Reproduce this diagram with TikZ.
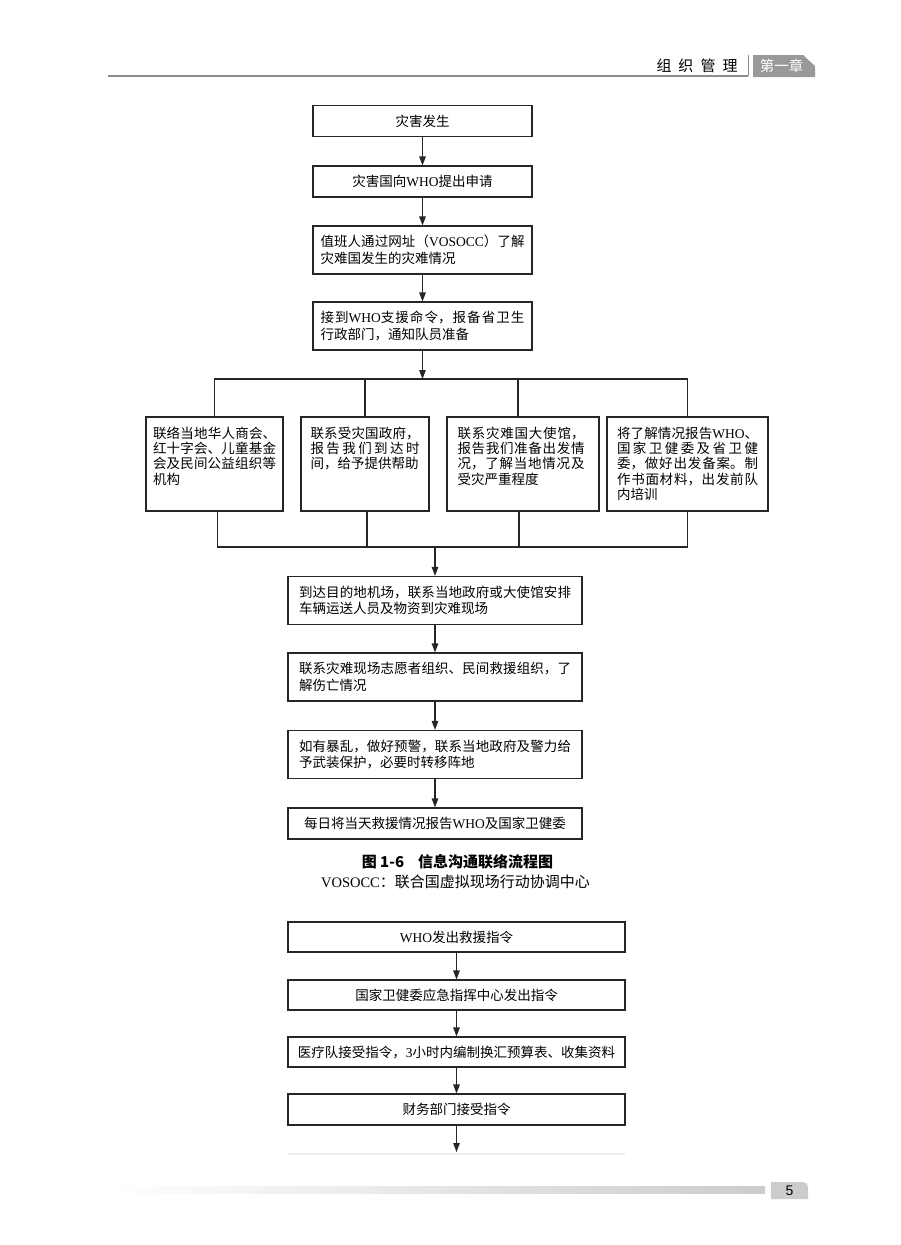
\documentclass[tikz,border=0pt]{standalone}
\usepackage{fontspec}
\setmainfont{Noto Sans CJK SC}
\newfontfamily\latinrm{Liberation Serif}
\newfontfamily\latinsf{Liberation Sans}
\usetikzlibrary{arrows.meta}
\XeTeXlinebreaklocale "zh"
\XeTeXlinebreakskip=0pt plus 2pt
\tolerance=9999
\begin{document}
\begin{tikzpicture}[x=1pt, y=-1pt, line width=1.1pt]
    \tikzstyle{every node}=[font=\fontsize{13.5pt}{16.6pt}\selectfont]
    \tikzstyle{flowbox} = [draw=black!85, minimum height=31pt, inner sep=0pt, align=center]
    \tikzstyle{twoline} = [draw=black!85, minimum height=48pt, inner xsep=0pt, align=justify]
    \tikzstyle{taskbox} = [draw=black!85, inner xsep=0pt, inner ysep=11pt, text height=10pt, text depth=62pt, align=justify, font=\fontsize{13.5pt}{15.4pt}\selectfont]
    \tikzstyle{flowarrow} = [draw=black!85, -{Triangle[length=9pt,width=6.5pt]}]
    \tikzstyle{flowline} = [draw=black!85]
    \useasboundingbox (0,0) rectangle (900,1245);

    % page header
    \draw[black!45, line width=1.5pt] (108,76) -- (748,76);
    \draw[black!45, line width=0.8pt] (748,55) -- (748,76);
    \node[font=\fontsize{15pt}{18pt}\selectfont] (chapname) at (697,66) {组\hspace{7pt}织\hspace{7pt}管\hspace{7pt}理};
    \fill[black!40] (753,55) -- (803,55) -- (815,66) -- (815,77) -- (753,77) -- cycle;
    \node[white, font=\fontsize{14.5pt}{17pt}\selectfont] (chapno) at (781.5,66) {第一章};

    % figure 1-6
    \node[flowbox, minimum width=219pt] (disaster) at (422.5,121) {灾害发生};
    \node[flowbox, minimum width=219pt] (request) at (422.5,181.5) {灾害国向{\latinrm WHO}提出申请};
    \node[twoline, minimum width=219pt, text width=204pt] (watch) at (422.5,250) {值班人通过网址（{\latinrm VOSOCC}）了解\linebreak 灾难国发生的灾难情况};
    \node[twoline, minimum width=219pt, text width=204pt] (order) at (422.5,326) {接到{\latinrm WHO}支援命令，报备省卫生\linebreak 行政部门，通知队员准备};
    \coordinate (split) at (422.5,379);

    \node[taskbox, minimum width=137pt, text width=123pt] (chamber) at (214.5,464) {联络当地华人商会、\linebreak 红十字会、儿童基金\linebreak 会及民间公益组织等\linebreak 机构};
    \node[taskbox, minimum width=128pt, text width=109pt] (govt) at (365,464) {联系受灾国政府，\linebreak 报告我们到达时\linebreak 间，给予提供帮助};
    \node[taskbox, minimum width=152pt, text width=123pt] (embassy) at (523,464) {\hspace*{-4pt}联系灾难国大使馆，\linebreak \hspace*{-4pt}报告我们准备出发情\linebreak \hspace*{-4pt}况，了解当地情况及\linebreak \hspace*{-4pt}受灾严重程度};
    \node[taskbox, minimum width=161pt, text width=141pt] (report) at (687.5,464) {将了解情况报告{\latinrm WHO}、\linebreak 国家卫健委及省卫健\linebreak 委，做好出发备案。制\linebreak 作书面材料，出发前队\linebreak 内培训};
    \coordinate (merge) at (435,547);

    \node[twoline, minimum width=294pt, text width=272pt] (arrive) at (435,600.5) {到达目的地机场，联系当地政府或大使馆安排\linebreak 车辆运送人员及物资到灾难现场};
    \node[twoline, minimum width=294pt, text width=272pt] (contact) at (435,677) {联系灾难现场志愿者组织、民间救援组织，了\linebreak 解伤亡情况};
    \node[twoline, minimum width=294pt, text width=272pt] (security) at (435,754.5) {如有暴乱，做好预警，联系当地政府及警力给\linebreak 予武装保护，必要时转移阵地};
    \node[flowbox, minimum width=294pt] (daily) at (435,823.5) {每日将当天救援情况报告{\latinrm WHO}及国家卫健委};

    \draw[flowarrow] (disaster) -- (request);
    \draw[flowarrow] (request) -- (watch);
    \draw[flowarrow] (watch) -- (order);
    \draw[flowarrow] (order) -- (split);
    \draw[flowline] (chamber.north) |- (split) -| (report.north);
    \draw[flowline] (govt.north) -- (govt.north |- split);
    \draw[flowline] ([xshift=-5pt]embassy.north) -- ([xshift=-5pt]embassy.north |- split);
    \draw[flowline] ([xshift=3pt]chamber.south) |- (merge) -| (report.south);
    \draw[flowline] ([xshift=2pt]govt.south) -- ([xshift=2pt]govt.south |- merge);
    \draw[flowline] ([xshift=-4pt]embassy.south) -- ([xshift=-4pt]embassy.south |- merge);
    \draw[flowarrow] (merge) -- (arrive);
    \draw[flowarrow] (arrive) -- (contact);
    \draw[flowarrow] (contact) -- (security);
    \draw[flowarrow] (security) -- (daily);

    \node[font=\fontsize{15pt}{18pt}\selectfont\bfseries] (figtitle) at (457.5,861.5) {图 1-6\hspace{14pt}信息沟通联络流程图};
    \node[font=\fontsize{15pt}{18pt}\selectfont] (figkey) at (455.5,881.5) {{\latinrm\fontsize{14.5pt}{17pt}\selectfont VOSOCC}：联合国虚拟现场行动协调中心};

    % next figure
    \node[flowbox, minimum width=337pt, minimum height=30pt] (whoorder) at (456.5,937) {{\latinrm WHO}发出救援指令};
    \node[flowbox, minimum width=337pt, minimum height=30pt] (nhcorder) at (456.5,995) {国家卫健委应急指挥中心发出指令};
    \node[flowbox, minimum width=337pt, minimum height=30pt] (teamorder) at (456.5,1052) {医疗队接受指令，{\latinrm 3}小时内编制换汇预算表、收集资料};
    \node[flowbox, minimum width=337pt, minimum height=31pt] (financeorder) at (456.5,1109.5) {财务部门接受指令};
    \coordinate (next) at (456.5,1152);
    \draw[flowarrow] (whoorder) -- (nhcorder);
    \draw[flowarrow] (nhcorder) -- (teamorder);
    \draw[flowarrow] (teamorder) -- (financeorder);
    \draw[flowarrow] (financeorder) -- (next);
    \draw[black!7] (288,1154) -- (625,1154);

    % page footer
    \shade[left color=white, right color=black!20] (108,1186) rectangle (765,1193);
    \fill[black!20] (771,1199) -- (771,1182) [rounded corners=5pt] -- (808,1182) [sharp corners] -- (808,1199) -- cycle;
    \node[font=\latinsf\fontsize{14pt}{16pt}\selectfont] (pageno) at (789.5,1190.5) {5};
\end{tikzpicture}
\end{document}
